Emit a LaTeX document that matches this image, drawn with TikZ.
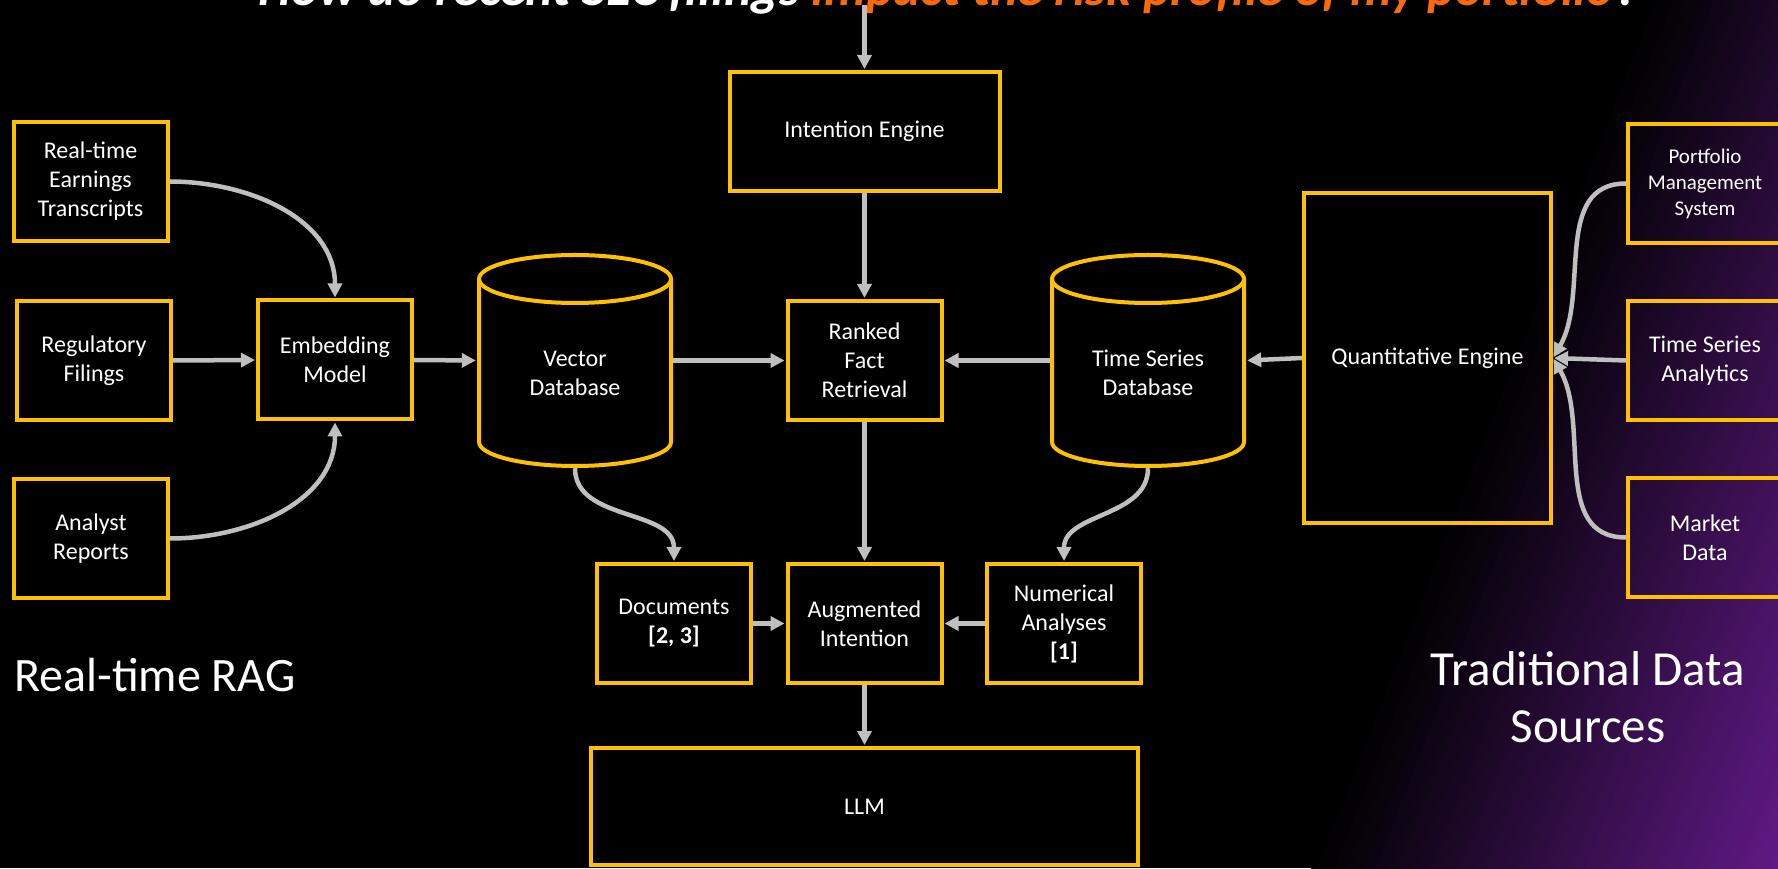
\documentclass[tikz,border=0pt]{standalone}
\usepackage{fontspec}
\setmainfont{Carlito}
\usetikzlibrary{arrows.meta}
\definecolor{gold}{RGB}{255,192,0}
\definecolor{arrowgray}{RGB}{191,191,191}
\definecolor{purp}{RGB}{96,26,134}
\definecolor{titleorange}{RGB}{250,106,10}
\begin{document}
\begin{tikzpicture}[x=1pt,y=1pt,
  box/.style={draw=gold, line width=4pt, minimum width=154pt, minimum height=119pt, inner sep=0pt, text=white, align=center, font=\fontsize{24}{29}\selectfont},
  dbarea/.style={minimum width=196pt, minimum height=215pt, inner sep=0pt},
  dbshape/.style={draw=gold, line width=4pt},
  lbl/.style={text=white, align=center, inner sep=0pt, font=\fontsize{24}{29}\selectfont},
  conn/.style={draw=arrowgray, line width=4.5pt, shorten >=1pt, -{Triangle[length=14pt,width=14pt]}},
]
% background
\fill[black] (0,0) rectangle (1778,868);
\useasboundingbox (0,0) rectangle (1778,868);
\begin{scope}
\clip (0,0) rectangle (1778,868);
\begin{scope}[rotate=-21.3]
\foreach \i in {0,...,79}{
  \pgfmathsetmacro{\ua}{1222+\i*5.4375}
  \pgfmathsetmacro{\ub}{\ua+6.04}
  \pgfmathsetmacro{\pc}{(\i+0.5)*1.25}
  \fill[purp!\pc!black] (\ua,-300) -- (\ub,-300) -- (\ub,1800) -- (\ua,1800) -- cycle;
}
\fill[purp] (1657,-300) -- (1900,-300) -- (1900,1800) -- (1657,1800) -- cycle;
\end{scope}
\end{scope}

% title (cut off by the top edge, as in the reference)
\node[anchor=base west, inner sep=0pt, font=\fontsize{52}{58}\selectfont\bfseries\itshape] (title) at (258,862)
  {\textcolor{white}{How do recent SEC filings }\textcolor{titleorange}{impact the risk profile of my portfolio}\textcolor{white}{?}};
\coordinate (titlearr) at (864.5,863);

% left sources
\node[box] (RTE) at (90.5,686.5) {Real-time\\Earnings\\Transcripts};
\node[box] (REG) at (94,507.5) {Regulatory\\Filings};
\node[box] (ANA) at (91,329.5) {Analyst\\Reports};
\node[box] (EMB) at (335,508) {Embedding\\Model};

% vector database
\path[dbshape] (479,589) -- (479,426) arc[start angle=180, end angle=360, x radius=96, y radius=24] -- (671,589);
\draw[dbshape] (575,589) ellipse[x radius=96, y radius=24];
\node[dbarea] (VDB) at (575,507.5) {};
\node[lbl] (VDBt) at (575,495) {Vector\\Database};

% centre column
\node[box, minimum width=270pt] (INT) at (864.5,736.5) {Intention Engine};
\node[box] (RFR) at (864.5,507.5) {Ranked\\Fact\\Retrieval};

% time series database
\path[dbshape] (1052,589) -- (1052,426) arc[start angle=180, end angle=360, x radius=96, y radius=24] -- (1244,589);
\draw[dbshape] (1148,589) ellipse[x radius=96, y radius=24];
\node[dbarea] (TSDB) at (1148,507.5) {};
\node[lbl] (TSDBt) at (1148,495) {Time Series\\Database};

% right
\node[box, minimum width=247pt, minimum height=330pt] (QE) at (1427.5,510) {Quantitative Engine};
\node[box, font=\fontsize{21}{26}\selectfont] (PMS) at (1705,684.5) {Portfolio\\Management\\System};
\node[box] (TSA) at (1705,507.5) {Time Series\\Analytics};
\node[box] (MKT) at (1705,330.5) {Market\\Data};

% lower row
\node[box] (DOC) at (674,244.5) {Documents\\\textbf{[2, 3]}};
\node[box] (AUG) at (864.5,244.5) {Augmented\\Intention};
\node[box] (NUM) at (1064,244.5) {Numerical\\Analyses\\\textbf{[1]}};
\node[box, minimum width=547pt, minimum height=117pt] (LLM) at (864.5,61.5) {LLM};

% section labels
\node[anchor=base west, inner sep=0pt, text=white, font=\fontsize{48}{57}\selectfont] (RAG) at (14,176) {Real-time RAG};
\node[anchor=base, inner sep=0pt, text=white, align=center, font=\fontsize{49}{57}\selectfont] (TDS) at (1588,125) {Traditional Data\\Sources};

% connectors
\draw[conn] (titlearr) -- (INT.north);
\draw[conn] (RTE.east) to[out=0,in=90] (EMB.north);
\draw[conn] (REG.east) -- (EMB.west);
\draw[conn] (ANA.east) to[out=0,in=-90] (EMB.south);
\draw[conn] (EMB.east) -- (VDB.west);
\draw[conn] (VDB.east) -- (RFR.west);
\draw[conn] (INT.south) -- (RFR.north);
\draw[conn] (TSDB.west) -- (RFR.east);
\draw[conn] (QE.west) -- (TSDB.east);
\draw[conn] (PMS.west) to[out=180,in=60] (QE.east);
\draw[conn] (TSA.west) -- (QE.east);
\draw[conn] (MKT.west) to[out=180,in=-60] (QE.east);
\draw[conn] (VDB.south) to[out=-90,in=90] (DOC.north);
\draw[conn] (TSDB.south) to[out=-90,in=90] (NUM.north);
\draw[conn] (RFR.south) -- (AUG.north);
\draw[conn] (DOC.east) -- (AUG.west);
\draw[conn] (NUM.west) -- (AUG.east);
\draw[conn] (AUG.south) -- (LLM.north);
\end{tikzpicture}
\end{document}
